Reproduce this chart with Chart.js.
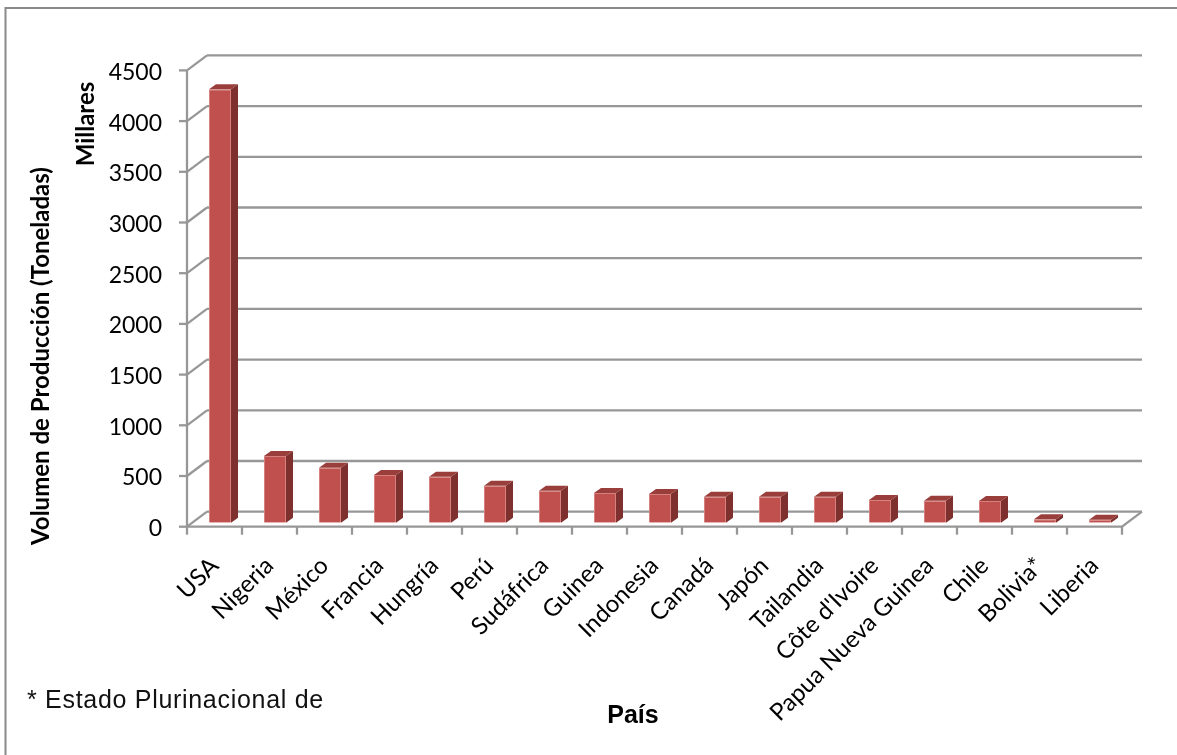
<!DOCTYPE html>
<html lang="es">
<head>
<meta charset="utf-8">
<title>Volumen de Producción por País</title>
<script src="https://cdn.jsdelivr.net/npm/chart.js@4.4.1/dist/chart.umd.min.js"></script>
<style>
    html, body { margin: 0; padding: 0; background: #fff; }
    #wrap { position: relative; width: 1177px; height: 755px; }
</style>
</head>
<body>
<div id="wrap"><canvas id="chart" width="1177" height="755"></canvas></div>
<script>
// 数据（单位：千吨）
const paises = ['USA', 'Nigeria', 'México', 'Francia', 'Hungría', 'Perú', 'Sudáfrica', 'Guinea',
    'Indonesia', 'Canadá', 'Japón', 'Tailandia', "Côte d'Ivoire", 'Papua Nueva Guinea', 'Chile',
    'Bolivia*', 'Liberia'];
const volumen = [4274, 658, 542, 470, 454, 365, 315, 293, 283, 256, 256, 256, 224, 217, 214, 34, 30];
const yTicks = [0, 500, 1000, 1500, 2000, 2500, 3000, 3500, 4000, 4500];

// 文字
const tituloY = 'Volumen de Producción (Toneladas)';
const unidadY = 'Millares';
const tituloX = 'País';
const nota = '* Estado Plurinacional de';

// 立体效果的偏移量（相对柱子正面）
const OFF_FRONT = { x: -5.5, y: 4 };
const OFF_BACK = { x: 14.5, y: -11 };
const SIDE = { x: 7, y: -5 };

const GRID_COLOR = '#979797';
const Y_FONT = '23px Lato, "Open Sans", sans-serif';
const X_FONT = '24px Lato, "Open Sans", sans-serif';
const BOLD_FONT = 'bold 24px Lato, "Open Sans", sans-serif';

function line(ctx, x1, y1, x2, y2) {
    ctx.beginPath();
    ctx.moveTo(x1, y1);
    ctx.lineTo(x2, y2);
    ctx.stroke();
}

// 网格、坐标轴和刻度文字
const marco3d = {
    id: 'marco3d',
    beforeDatasetsDraw(chart) {
        const ctx = chart.ctx;
        const xs = chart.scales.x;
        const ys = chart.scales.y;
        const area = chart.chartArea;
        const frontL = area.left + OFF_FRONT.x;
        const frontR = area.right + OFF_FRONT.x;
        const backL = area.left + OFF_BACK.x;
        const backR = area.right + OFF_BACK.x;

        ctx.save();
        ctx.strokeStyle = GRID_COLOR;
        ctx.lineWidth = 2.3;
        ctx.lineCap = 'butt';

        yTicks.forEach(v => {
            const yp = ys.getPixelForValue(v);
            // 背面网格线
            line(ctx, backL, yp + OFF_BACK.y, backR, yp + OFF_BACK.y);
            // 左侧斜线
            line(ctx, frontL, yp + OFF_FRONT.y, backL, yp + OFF_BACK.y);
            // 刻度
            line(ctx, frontL - 8, yp + OFF_FRONT.y, frontL, yp + OFF_FRONT.y);
        });

        // 前面纵轴
        const yTop = ys.getPixelForValue(yTicks[yTicks.length - 1]);
        const y0 = ys.getPixelForValue(0);
        line(ctx, frontL, yTop + OFF_FRONT.y, frontL, y0 + OFF_FRONT.y);

        // 底面
        ctx.beginPath();
        ctx.moveTo(frontL, y0 + OFF_FRONT.y);
        ctx.lineTo(frontR, y0 + OFF_FRONT.y);
        ctx.lineTo(backR, y0 + OFF_BACK.y);
        ctx.stroke();

        // 分类刻度
        const n = paises.length;
        for (let i = 0; i <= n; i++) {
            const xx = frontL + i * (frontR - frontL) / n;
            line(ctx, xx, y0 + OFF_FRONT.y, xx, y0 + OFF_FRONT.y + 8);
        }

        // 纵轴刻度文字
        ctx.fillStyle = '#000';
        ctx.font = Y_FONT;
        ctx.textAlign = 'right';
        ctx.textBaseline = 'middle';
        yTicks.forEach(v => {
            const yp = ys.getPixelForValue(v);
            ctx.fillText(String(v), frontL - 25, yp + OFF_FRONT.y + 2);
        });

        // 横轴文字，旋转45度
        ctx.font = X_FONT;
        ctx.textAlign = 'right';
        ctx.textBaseline = 'middle';
        paises.forEach((p, i) => {
            const xc = xs.getPixelForValue(i) + OFF_FRONT.x;
            ctx.save();
            ctx.translate(xc, y0 + 39);
            ctx.rotate(-Math.PI / 4);
            ctx.fillText(p, 0, 0);
            ctx.restore();
        });
        ctx.restore();
    },
    afterDatasetsDraw(chart) {
        const ctx = chart.ctx;
        const meta = chart.getDatasetMeta(0);
        ctx.save();
        meta.data.forEach(bar => {
            const { x, y, base, width } = bar.getProps(['x', 'y', 'base', 'width'], true);
            const l = x - width / 2;
            const r = x + width / 2;
            // 侧面
            ctx.fillStyle = '#7e302e';
            ctx.beginPath();
            ctx.moveTo(r, y);
            ctx.lineTo(r + SIDE.x, y + SIDE.y);
            ctx.lineTo(r + SIDE.x, base + SIDE.y);
            ctx.lineTo(r, base);
            ctx.closePath();
            ctx.fill();
            // 顶面
            ctx.fillStyle = '#9a3e3b';
            ctx.beginPath();
            ctx.moveTo(l, y);
            ctx.lineTo(l + SIDE.x, y + SIDE.y);
            ctx.lineTo(r + SIDE.x, y + SIDE.y);
            ctx.lineTo(r, y);
            ctx.closePath();
            ctx.fill();
        });
        ctx.restore();
    },
    afterDraw(chart) {
        const ctx = chart.ctx;
        ctx.save();
        // 外框（上、左）
        ctx.strokeStyle = '#8a8a8a';
        ctx.lineWidth = 2;
        ctx.beginPath();
        ctx.moveTo(5.5, 755);
        ctx.lineTo(5.5, 8);
        ctx.lineTo(1177, 8);
        ctx.stroke();

        ctx.fillStyle = '#000';
        ctx.textAlign = 'center';
        ctx.textBaseline = 'middle';
        ctx.font = BOLD_FONT;

        ctx.save();
        ctx.translate(41, 356);
        ctx.rotate(-Math.PI / 2);
        ctx.fillText(tituloY, 0, 0);
        ctx.restore();

        ctx.save();
        ctx.translate(86, 124);
        ctx.rotate(-Math.PI / 2);
        ctx.fillText(unidadY, 0, 0);
        ctx.restore();

        ctx.textBaseline = 'alphabetic';
        ctx.font = 'bold 25px "Liberation Sans", Arial, sans-serif';
        ctx.fillText(tituloX, 633, 723);

        ctx.textAlign = 'left';
        ctx.font = '25px "Liberation Sans", Arial, sans-serif';
        ctx.letterSpacing = '0.7px';
        ctx.fillStyle = '#111';
        ctx.fillText(nota, 27, 708);
        ctx.restore();
    }
};

new Chart(document.getElementById('chart'), {
    type: 'bar',
    data: {
        labels: paises,
        datasets: [{
            data: volumen,
            backgroundColor: '#c0504d',
            borderColor: '#d7817e',
            borderWidth: 1,
            barPercentage: 0.4,
            categoryPercentage: 1
        }]
    },
    options: {
        responsive: false,
        animation: false,
        layout: {
            padding: { left: 192.5, right: 49.5, top: 66.4, bottom: 232.3 }
        },
        plugins: {
            legend: { display: false },
            tooltip: { enabled: false }
        },
        scales: {
            x: { display: false, offset: true },
            y: { display: false, min: 0, max: 4500, ticks: { stepSize: 500 } }
        }
    },
    plugins: [marco3d]
});
</script>
</body>
</html>
